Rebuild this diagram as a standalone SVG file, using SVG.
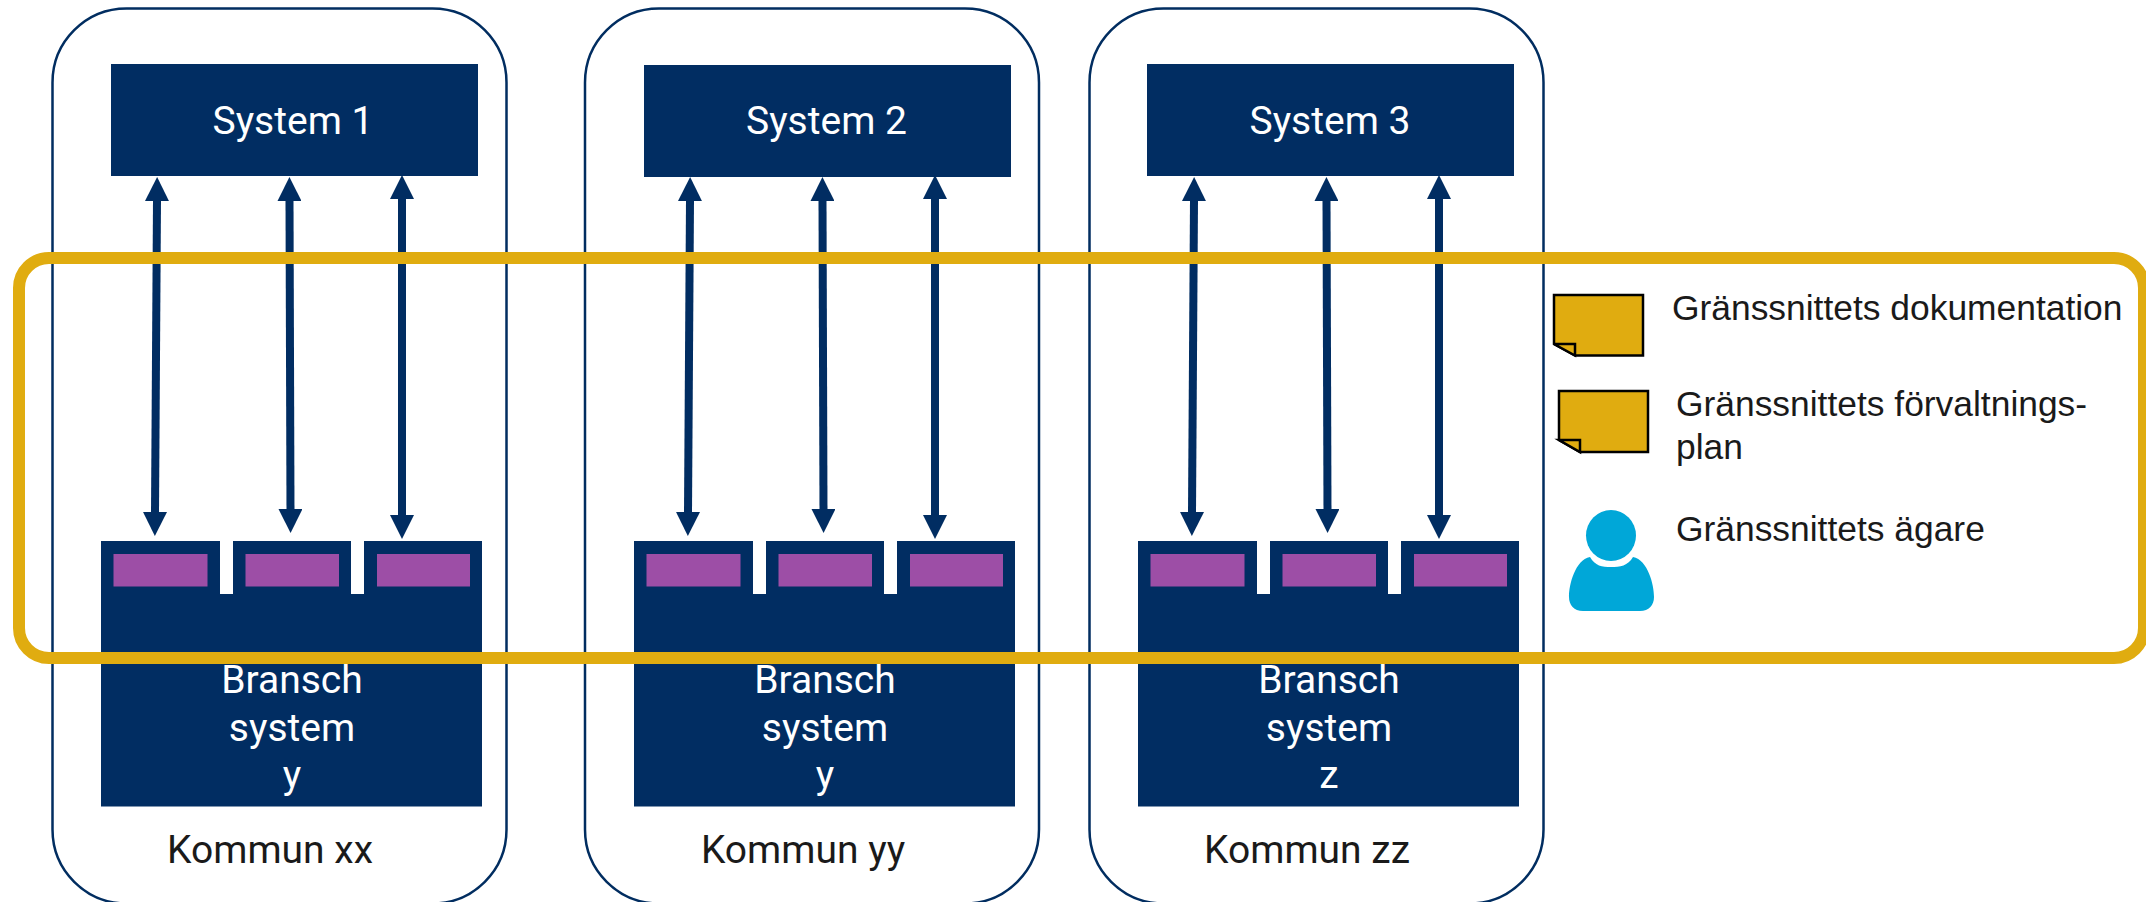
<svg xmlns="http://www.w3.org/2000/svg" xmlns:xlink="http://www.w3.org/1999/xlink" width="2146" height="902" viewBox="0 0 2146 902">
<style>
.panel{fill:#fff;stroke:#012d60;stroke-width:2.5}
.navy{fill:#012d62}
.purple{fill:#9d4ea6}
.w{fill:#fff;font-family:Roboto,"Liberation Sans",sans-serif;font-size:39px;text-anchor:middle}
.k{fill:#1a1a1a;font-family:Roboto,"Liberation Sans",sans-serif;font-size:39px;text-anchor:middle}
.l{fill:#1a1a1a;font-family:"Liberation Sans",Arial,sans-serif;font-size:35.4px}
.conn{stroke:#012d62;stroke-width:8;fill:none;marker-start:url(#a);marker-end:url(#a)}
.note{fill:#e0ac10;stroke:#000;stroke-width:2.5}
</style>
<defs>
<marker id="a" viewBox="0 0 24 24" refX="1" refY="12" markerUnits="userSpaceOnUse" markerWidth="24" markerHeight="24" orient="auto-start-reverse"><path d="M0 0L24 12L0 24Z" fill="#012d62"/></marker>
<g id="tabs">
<rect x="101" y="541" width="119" height="54" class="navy"/><rect x="233" y="541" width="118" height="54" class="navy"/><rect x="364" y="541" width="118" height="54" class="navy"/>
<rect x="101" y="594" width="381" height="212.500" class="navy"/>
<rect x="113.500" y="554" width="94" height="32.500" class="purple"/><rect x="245.500" y="554" width="93.500" height="32.500" class="purple"/><rect x="377" y="554" width="93" height="32.500" class="purple"/>
</g>
<g id="arrows">
<path d="M157 200L155 513"/><path d="M289.500 200L290.500 510"/><path d="M402 198V516"/>
</g>
</defs>
<g id="kommun-xx"><rect class="panel" x="52.500" y="8.500" width="454" height="895" rx="74"/>
<text class="k" x="270" y="863">Kommun xx</text></g>
<g id="kommun-yy"><rect class="panel" x="585" y="8.500" width="454" height="895" rx="74"/>
<text class="k" x="803" y="863">Kommun yy</text></g>
<g id="kommun-zz"><rect class="panel" x="1089.500" y="8.500" width="454" height="895" rx="74"/>
<text class="k" x="1307" y="863">Kommun zz</text></g>
<g id="system-1"><rect class="navy" x="111" y="64" width="367" height="112"/><text class="w" x="293" y="134">System 1</text></g>
<g id="system-2"><rect class="navy" x="644" y="65" width="367" height="112"/><text class="w" x="826.500" y="134">System 2</text></g>
<g id="system-3"><rect class="navy" x="1147" y="64" width="367" height="112"/><text class="w" x="1330" y="134">System 3</text></g>
<g id="bransch-1"><use xlink:href="#tabs" href="#tabs"/><text class="w" x="292" y="693">Bransch</text><text class="w" x="292" y="741">system</text><text class="w" x="292" y="788">y</text></g>
<g id="bransch-2" transform="translate(533 0)"><use xlink:href="#tabs" href="#tabs"/><text class="w" x="292" y="693">Bransch</text><text class="w" x="292" y="741">system</text><text class="w" x="292" y="788">y</text></g>
<g id="bransch-3" transform="translate(1037 0)"><use xlink:href="#tabs" href="#tabs"/><text class="w" x="292" y="693">Bransch</text><text class="w" x="292" y="741">system</text><text class="w" x="292" y="788">z</text></g>
<g id="connectors" class="conn">
<use xlink:href="#arrows" href="#arrows"/>
<use xlink:href="#arrows" href="#arrows" x="533"/>
<use xlink:href="#arrows" href="#arrows" x="1037"/>
</g>
<g id="interface-frame"><rect x="19" y="258" width="2125" height="400" rx="30" fill="none" stroke="#e0ac10" stroke-width="12"/></g>
<g id="legend-doc"><path class="note" d="M1554 295H1643V355.500H1575L1554 344Z"/><path class="note" d="M1554 344H1575V355.500Z"/><text class="l" x="1672" y="320">Gränssnittets dokumentation</text></g>
<g id="legend-plan"><path class="note" d="M1559 391H1648V452H1580L1559 440Z"/><path class="note" d="M1559 440H1580V452Z"/><text class="l" x="1676" y="416">Gränssnittets förvaltnings-</text><text class="l" x="1676" y="459">plan</text></g>
<g id="legend-owner"><path d="M1590 557C1575 560 1569 585 1569 597C1569 605 1574 611 1583 611H1640C1649 611 1654 605 1654 597C1654 585 1648 560 1633 557C1628 566 1620 567 1611 567C1602 567 1595 566 1590 557Z" fill="#00a7d8"/><ellipse cx="1611" cy="535.500" rx="25" ry="25.500" fill="#00a7d8"/><text class="l" x="1676" y="541">Gränssnittets ägare</text></g>
</svg>
